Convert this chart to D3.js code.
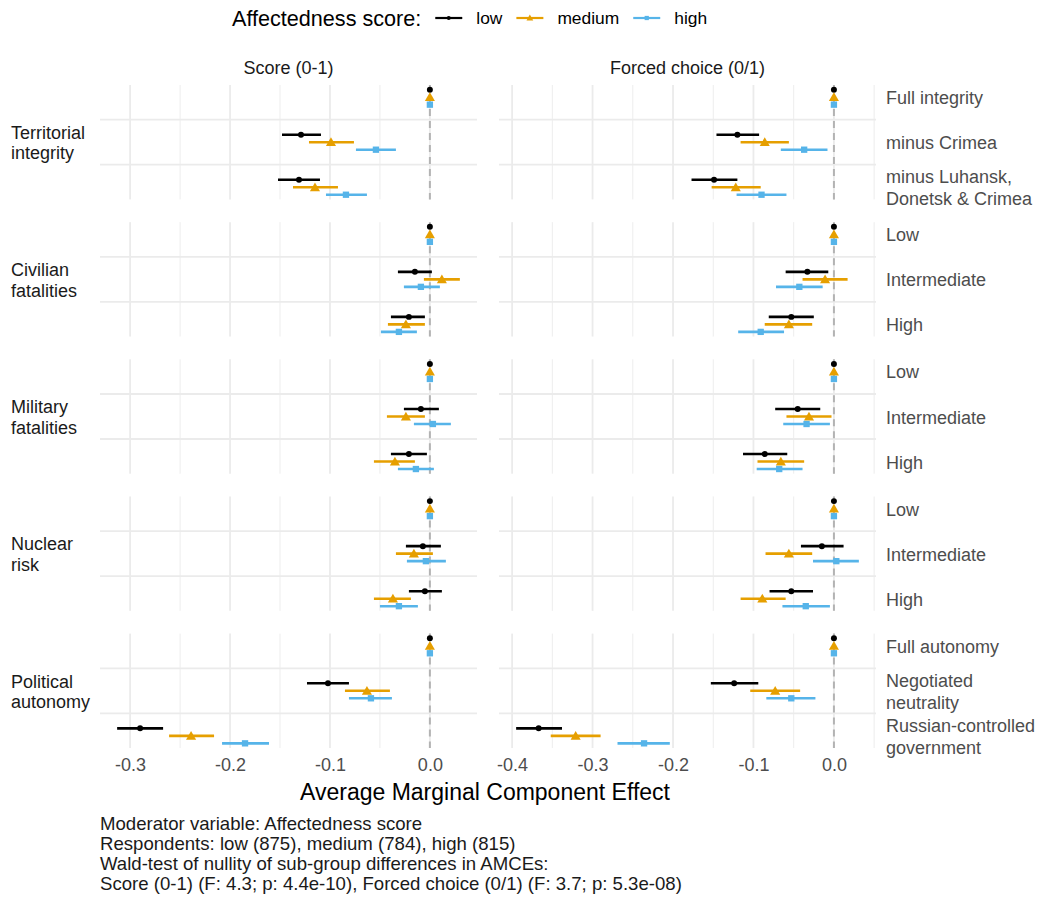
<!DOCTYPE html>
<html>
<head>
<meta charset="utf-8">
<script src="https://cdn.jsdelivr.net/npm/d3@7/dist/d3.min.js"></script>
<style>
  body { margin: 0; background: #ffffff; }
  text { font-family: "Liberation Sans", Arial, Helvetica, sans-serif; }
</style>
</head>
<body>
<svg id="chart" width="1044" height="900"></svg>
<script>
// ---- data -------------------------------------------------------------
const outcomes = ["Score (0-1)", "Forced choice (0/1)"];
const groups = ["low", "medium", "high"];
const groupColors = ["#000000", "#E69F00", "#56B4E9"];
const attributes = ["Territorial\nintegrity", "Civilian\nfatalities", "Military\nfatalities", "Nuclear\nrisk", "Political\nautonomy"];
const levels = [
  ["Full integrity", "minus Crimea", "minus Luhansk,\nDonetsk & Crimea"],
  ["Low", "Intermediate", "High"],
  ["Low", "Intermediate", "High"],
  ["Low", "Intermediate", "High"],
  ["Full autonomy", "Negotiated\nneutrality", "Russian-controlled\ngovernment"]
];
const scoreTicks = [-0.3, -0.2, -0.1, 0.0];
const forcedTicks = [-0.4, -0.3, -0.2, -0.1, 0.0];

// AMCE estimates as [estimate, lower, upper], 15 levels in the order above.
// The first level of each attribute is the reference level (0).
const scoreLow = [
  [0, 0, 0], [-0.129, -0.148, -0.109], [-0.131, -0.152, -0.110],
  [0, 0, 0], [-0.015, -0.032, 0.002], [-0.021, -0.039, -0.005],
  [0, 0, 0], [-0.009, -0.026, 0.009], [-0.021, -0.039, -0.003],
  [0, 0, 0], [-0.007, -0.024, 0.011], [-0.005, -0.021, 0.012],
  [0, 0, 0], [-0.102, -0.123, -0.081], [-0.290, -0.313, -0.267]
];
const scoreMedium = [
  [0, 0, 0], [-0.099, -0.121, -0.076], [-0.115, -0.137, -0.092],
  [0, 0, 0], [0.012, -0.006, 0.030], [-0.024, -0.042, -0.005],
  [0, 0, 0], [-0.024, -0.043, -0.005], [-0.035, -0.056, -0.015],
  [0, 0, 0], [-0.016, -0.034, 0.003], [-0.037, -0.056, -0.019],
  [0, 0, 0], [-0.063, -0.085, -0.040], [-0.239, -0.261, -0.216]
];
const scoreHigh = [
  [0, 0, 0], [-0.054, -0.074, -0.034], [-0.084, -0.104, -0.063],
  [0, 0, 0], [-0.009, -0.026, 0.010], [-0.031, -0.049, -0.013],
  [0, 0, 0], [0.003, -0.016, 0.021], [-0.014, -0.032, 0.004],
  [0, 0, 0], [-0.004, -0.023, 0.016], [-0.031, -0.050, -0.012],
  [0, 0, 0], [-0.059, -0.081, -0.038], [-0.185, -0.208, -0.161]
];
const forcedLow = [
  [0, 0, 0], [-0.120, -0.146, -0.093], [-0.149, -0.177, -0.120],
  [0, 0, 0], [-0.033, -0.060, -0.007], [-0.053, -0.081, -0.025],
  [0, 0, 0], [-0.045, -0.073, -0.017], [-0.086, -0.113, -0.058],
  [0, 0, 0], [-0.015, -0.041, 0.012], [-0.053, -0.080, -0.026],
  [0, 0, 0], [-0.124, -0.153, -0.094], [-0.367, -0.395, -0.338]
];
const forcedMedium = [
  [0, 0, 0], [-0.086, -0.116, -0.056], [-0.122, -0.152, -0.091],
  [0, 0, 0], [-0.011, -0.039, 0.017], [-0.056, -0.086, -0.027],
  [0, 0, 0], [-0.031, -0.059, -0.003], [-0.066, -0.095, -0.037],
  [0, 0, 0], [-0.056, -0.085, -0.027], [-0.089, -0.116, -0.060],
  [0, 0, 0], [-0.073, -0.104, -0.042], [-0.321, -0.352, -0.290]
];
const forcedHigh = [
  [0, 0, 0], [-0.037, -0.066, -0.008], [-0.090, -0.121, -0.059],
  [0, 0, 0], [-0.043, -0.072, -0.014], [-0.091, -0.119, -0.062],
  [0, 0, 0], [-0.034, -0.063, -0.005], [-0.068, -0.096, -0.039],
  [0, 0, 0], [0.003, -0.026, 0.031], [-0.035, -0.064, -0.005],
  [0, 0, 0], [-0.053, -0.084, -0.023], [-0.236, -0.269, -0.204]
];
const captionLines = [
  "Moderator variable: Affectedness score",
  "Respondents: low (875), medium (784), high (815)",
  "Wald-test of nullity of sub-group differences in AMCEs:",
  "Score (0-1) (F: 4.3; p: 4.4e-10), Forced choice (0/1) (F: 3.7; p: 5.3e-08)"
];

// ---- build long table -------------------------------------------------
const seriesByOutcome = [
  [scoreLow, scoreMedium, scoreHigh],
  [forcedLow, forcedMedium, forcedHigh]
];
const rows = [];
seriesByOutcome.forEach((sets, oi) => {
  sets.forEach((arr, gi) => {
    arr.forEach((d, k) => {
      const ai = Math.floor(k / 3), li = k % 3;
      rows.push({ outcome: oi, group: gi, attr: ai, level: li,
                  est: d[0], lo: d[1], hi: d[2], ref: li === 0 });
    });
  });
});

// ---- layout -----------------------------------------------------------
const svg = d3.select("#chart");
const SMALL = 18;
const fmt = d3.formatLocale({ decimal: ".", thousands: ",", grouping: [3], currency: ["", ""], minus: "-" }).format(".1f");

const panelX = [[100, 477], [499, 876]];
const tickSets = [scoreTicks, forcedTicks];

const xScales = seriesByOutcome.map((_, oi) => {
  const vals = rows.filter(r => r.outcome === oi).flatMap(r => [r.lo, r.hi, 0]);
  const [mn, mx] = d3.extent(vals);
  const pad = (mx - mn) * 0.05;
  return d3.scaleLinear().domain([mn - pad, mx + pad]).range(panelX[oi]);
});

const facetY = d3.scaleBand().domain(d3.range(attributes.length)).range([85, 748]).paddingInner(0.166);
const bw = facetY.bandwidth();
const levelY = d3.scalePoint().domain([0, 1, 2]).range([0, bw]).padding(0.27);
const dodge = d3.scalePoint().domain(d3.range(groups.length)).range([-7.5, 7.5]);

const symbols = [d3.symbolCircle, d3.symbolTriangle, d3.symbolSquare];
const symbolSize = [28, 44, 40];

// ---- panels -----------------------------------------------------------
const gridG = svg.append("g");
const markG = svg.append("g");

attributes.forEach((attr, ai) => {
  const y0 = facetY(ai);
  seriesByOutcome.forEach((_, oi) => {
    const x = xScales[oi];
    const [xa, xb] = x.range();
    const g = gridG.append("g");
    const majors = x.ticks(5);
    const minors = d3.range(Math.ceil(x.domain()[0] / 0.05), Math.floor(x.domain()[1] / 0.05) + 1)
      .map(i => +(i * 0.05).toFixed(2))
      .filter(v => !majors.some(m => Math.abs(m - v) < 1e-9));
    g.selectAll("line.minor").data(minors).join("line")
      .attr("x1", d => x(d)).attr("x2", d => x(d))
      .attr("y1", y0).attr("y2", y0 + bw)
      .attr("stroke", "#ebebeb").attr("stroke-width", 0.9);
    g.selectAll("line.major").data(majors).join("line")
      .attr("x1", d => x(d)).attr("x2", d => x(d))
      .attr("y1", y0).attr("y2", y0 + bw)
      .attr("stroke", "#ebebeb").attr("stroke-width", 1.8);
    // separators between levels
    g.selectAll("line.sep").data([0, 1]).join("line")
      .attr("x1", xa).attr("x2", xb)
      .attr("y1", d => y0 + (levelY(d) + levelY(d + 1)) / 2)
      .attr("y2", d => y0 + (levelY(d) + levelY(d + 1)) / 2)
      .attr("stroke", "#ebebeb").attr("stroke-width", 1.8);
    // zero reference
    g.append("line")
      .attr("x1", x(0)).attr("x2", x(0))
      .attr("y1", y0).attr("y2", y0 + bw)
      .attr("stroke", "#b3b3b3").attr("stroke-width", 2)
      .attr("stroke-dasharray", "7,5");

    const data = rows.filter(r => r.attr === ai && r.outcome === oi);
    const m = markG.append("g").attr("transform", `translate(0,${y0})`);
    m.selectAll("line").data(data.filter(d => !d.ref)).join("line")
      .attr("x1", d => x(d.lo)).attr("x2", d => x(d.hi))
      .attr("y1", d => levelY(d.level) + dodge(d.group))
      .attr("y2", d => levelY(d.level) + dodge(d.group))
      .attr("stroke", d => groupColors[d.group]).attr("stroke-width", 2.6);
    m.selectAll("path").data(data).join("path")
      .attr("d", d => d3.symbol(symbols[d.group], symbolSize[d.group])())
      .attr("transform", d => `translate(${x(d.est)},${levelY(d.level) + dodge(d.group) + (d.group === 1 ? 1 : 0)})`)
      .attr("fill", d => groupColors[d.group]);
  });

  // facet strip label on the left
  const lines = attr.split("\n");
  const cy = y0 + bw / 2;
  const t = svg.append("text").attr("x", 11).attr("font-size", SMALL).attr("fill", "#1a1a1a");
  lines.forEach((ln, i) => {
    t.append("tspan").attr("x", 11)
      .attr("y", cy + (i - (lines.length - 1) / 2) * 20.5 + 7).text(ln);
  });

  // level labels on the right
  levels[ai].forEach((lv, li) => {
    const ls = lv.split("\n");
    const ly = y0 + levelY(li);
    const tt = svg.append("text").attr("font-size", SMALL).attr("fill", "#4d4d4d");
    ls.forEach((ln, i) => {
      tt.append("tspan").attr("x", 886)
        .attr("y", ly + (i - (ls.length - 1) / 2) * 21.5 + 7).text(ln);
    });
  });
});

// ---- outcome strip titles ---------------------------------------------
outcomes.forEach((o, oi) => {
  const [xa, xb] = xScales[oi].range();
  svg.append("text").attr("x", (xa + xb) / 2).attr("y", 74)
    .attr("text-anchor", "middle").attr("font-size", 18).attr("fill", "#1a1a1a").text(o);
});

// ---- bottom axes -------------------------------------------------------
const bottom = facetY(attributes.length - 1) + bw;
xScales.forEach((x, oi) => {
  const ax = svg.append("g").attr("transform", `translate(0,${bottom})`)
    .call(d3.axisBottom(x).tickValues(tickSets[oi]).tickFormat(fmt).tickSize(0).tickPadding(10));
  ax.select(".domain").remove();
  ax.selectAll("text").attr("font-size", SMALL).attr("fill", "#4d4d4d")
    .attr("font-family", "\"Liberation Sans\", Arial, sans-serif");
});

svg.append("text").attr("x", 485).attr("y", 800).attr("text-anchor", "middle")
  .attr("font-size", 23).attr("fill", "#000").text("Average Marginal Component Effect");

// ---- caption ----------------------------------------------------------
svg.append("g").selectAll("text").data(captionLines).join("text")
  .attr("x", 100).attr("y", (d, i) => 829.5 + i * 20)
  .attr("font-size", 18.6).attr("fill", "#1a1a1a").text(d => d);

// ---- legend -----------------------------------------------------------
const leg = svg.append("g").attr("transform", "translate(232,18)");
const title = leg.append("text").attr("y", 8).attr("font-size", 21.6).attr("fill", "#000").text("Affectedness score:");
let cx = title.node().getComputedTextLength() + 14;
groups.forEach((gname, gi) => {
  leg.append("line").attr("x1", cx).attr("x2", cx + 27).attr("y1", 0).attr("y2", 0)
    .attr("stroke", groupColors[gi]).attr("stroke-width", 2.2);
  leg.append("path").attr("d", d3.symbol(symbols[gi], symbolSize[gi] * 0.45)())
    .attr("transform", `translate(${cx + 13.5},${gi === 1 ? 0.5 : 0})`).attr("fill", groupColors[gi]);
  cx += 27 + 14;
  const lt = leg.append("text").attr("x", cx).attr("y", 6).attr("font-size", 17.4).attr("fill", "#000").text(gname);
  cx += lt.node().getComputedTextLength() + 14;
});
</script>
</body>
</html>
